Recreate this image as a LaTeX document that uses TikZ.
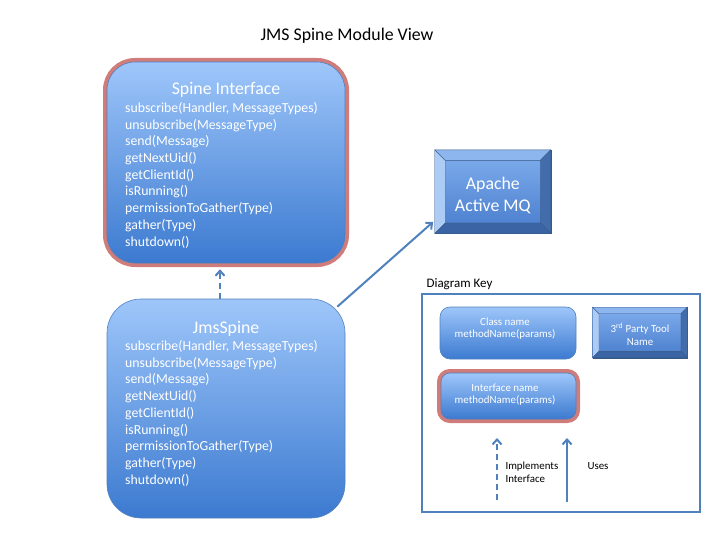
\documentclass[tikz,border=0pt]{standalone}
\usepackage{fontspec}
\setmainfont{Carlito}
\usetikzlibrary{arrows.meta}
\usetikzlibrary{calc}
\definecolor{umlblue}{RGB}{79,129,189}
\definecolor{boxtop}{RGB}{158,198,250}
\definecolor{boxbot}{RGB}{60,122,208}
\definecolor{facetop}{RGB}{128,174,238}
\definecolor{facebot}{RGB}{72,124,204}
\definecolor{glowred}{RGB}{192,80,77}
\definecolor{bevleft}{RGB}{172,204,246}
\definecolor{bevtop}{RGB}{142,182,238}
\definecolor{bevright}{RGB}{66,108,170}
\definecolor{bevbot}{RGB}{58,100,164}
\def\bevel(#1:#2)% Syntax: (node name : bevel width)
{ \filldraw[bevleft, draw=umlblue!70!black, line width=0.3] (#1.north west) -- (#1.south west) -- ($(#1.south west)+(#2,-#2)$) -- ($(#1.north west)+(#2,#2)$) -- cycle;
  \filldraw[bevtop, draw=umlblue!70!black, line width=0.3] (#1.north west) -- (#1.north east) -- ($(#1.north east)+(-#2,#2)$) -- ($(#1.north west)+(#2,#2)$) -- cycle;
  \filldraw[bevright, draw=umlblue!70!black, line width=0.3] (#1.north east) -- (#1.south east) -- ($(#1.south east)+(-#2,-#2)$) -- ($(#1.north east)+(-#2,#2)$) -- cycle;
  \filldraw[bevbot, draw=umlblue!70!black, line width=0.3] (#1.south west) -- (#1.south east) -- ($(#1.south east)+(-#2,-#2)$) -- ($(#1.south west)+(#2,-#2)$) -- cycle; }
\def\spinemethods{subscribe(Handler, MessageTypes)\\unsubscribe(MessageType)\\send(Message)\\getNextUid()\\getClientId()\\isRunning()\\permissionToGather(Type)\\gather(Type)\\shutdown()}

\tikzset{
	classbox/.style={rounded corners=#1, draw=umlblue, line width=0.6, top color=boxtop, bottom color=boxbot},
	ifacebox/.style={classbox=#1, preaction={draw=glowred, draw opacity=0.75, line width=8}},
	toolbox/.style={draw=umlblue!70!black, line width=0.3, top color=facetop, bottom color=facebot},
	big/.style={font=\fontsize{17.8}{22}\selectfont},
	methods/.style={text=white, align=left, inner sep=0, anchor=north west, font=\fontsize{13.8}{16.7}\selectfont},
	small/.style={font=\fontsize{10.9}{12.6}\selectfont, align=center},
	uses/.style={umlblue, line width=2, -{Straight Barb[length=5,width=9]}},
	implements/.style={uses, dash pattern=on 6 off 4},
}

\begin{document}
\begin{tikzpicture}[x=1pt,y=-1pt]
	\useasboundingbox (0,0) rectangle (720,540);
	\node[big] (title) at (347,36) {JMS Spine Module View};
	
	%interface
	\node[ifacebox=28, minimum width=238, minimum height=201] (iface) at (226,162.5) {};
	\node[big, text=white] (iface-name) at (226,89.5) {Spine Interface};
	\node[methods] (iface-m) at (125,102.2) {\spinemethods};
	
	%class
	\node[classbox=34, minimum width=238, minimum height=219] (jms) at (226,408.5) {};
	\node[big, text=white] (jms-name) at (226,328.5) {JmsSpine};
	\node[methods] (jms-m) at (125,340.3) {\spinemethods};
	
	%broker
	\node[toolbox, minimum width=115.7, minimum height=83.3] (amq) at (492.8,191.7) {};
	\bevel(amq:10.5)
	\node[big, text=white, align=center] (amq-text) at (492.8,195.3) {Apache\\Active MQ};
	
	\draw[implements] ([xshift=-6]jms.north) -- ([xshift=-6,yshift=-6]iface.south);
	\draw[uses] ([xshift=-8,yshift=-8]jms.north east) -- ([xshift=-1.7,yshift=11.6]amq.south west);
	
	%key
	\node[anchor=west, font=\fontsize{13}{15}\selectfont] (key-label) at (423,284) {Diagram Key};
	\node[draw=umlblue, line width=2, minimum width=278, minimum height=218] (key) at (561,403) {};
	\node[classbox=10, minimum width=136, minimum height=52] (key-class) at (508,333) {};
	\node[small, text=white] (key-class-text) at (505,328.5) {Class name\\methodName(params)};
	\node[toolbox, minimum width=94.6, minimum height=50.4] (key-tool) at (640,332.5) {};
	\bevel(key-tool:6.5)
	\node[small, text=white] (key-tool-text) at (640,334.5) {3\textsuperscript{rd} Party Tool\\Name};
	\node[ifacebox=9, minimum width=135, minimum height=46] (key-iface) at (508.5,396) {};
	\node[small, text=white] (key-iface-text) at (505,394.5) {Interface name\\methodName(params)};
	
	\coordinate (impl-from) at (497,500);
	\coordinate (impl-to) at (497,438);
	\coordinate (uses-from) at (567,502);
	\coordinate (uses-to) at (567,438);
	\draw[implements] (impl-from) -- (impl-to);
	\draw[uses] (uses-from) -- (uses-to);
	\node[small, align=left, anchor=west] (impl-text) at (502,472.5) {Implements\\Interface};
	\node[small, anchor=west] (uses-text) at (584,466.5) {Uses};
\end{tikzpicture}
\end{document}
